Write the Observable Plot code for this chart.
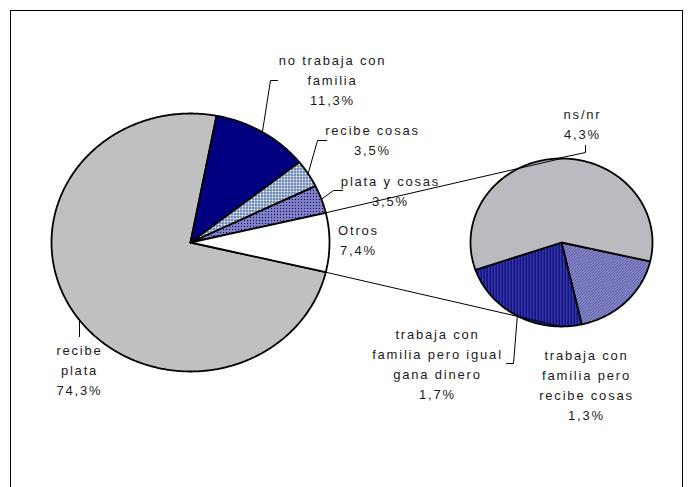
<!DOCTYPE html>
<html><head><meta charset="utf-8">
<script src="https://cdn.jsdelivr.net/npm/d3@7"></script>
<script src="https://cdn.jsdelivr.net/npm/@observablehq/plot@0.6"></script>
<style>
html,body{margin:0;padding:0;background:#fff;overflow:hidden;}
#wrap{position:relative;width:691px;height:487px;overflow:hidden;}
#frame{position:absolute;left:10px;top:10px;width:673px;height:500px;border:1px solid #000;box-sizing:border-box;}
#chart{position:absolute;left:0;top:0;}
</style></head><body>
<div id="wrap"><div id="frame"></div><div id="chart"></div></div>
<script>
// ---- data ----
const mainCategories = ["recibe plata", "no trabaja con familia", "recibe cosas", "plata y cosas", "Otros"];
const mainValues = [74.3, 11.3, 3.5, 3.5, 7.4];
const mainLabels = ["recibe\nplata\n74,3%", "no trabaja con\nfamilia\n11,3%", "recibe cosas\n3,5%", "plata y cosas\n3,5%", "Otros\n7,4%"];
const subCategories = ["trabaja con familia pero recibe cosas", "trabaja con familia pero igual gana dinero", "ns/nr"];
const subValues = [1.3, 1.7, 4.3];
const subLabels = ["trabaja con\nfamilia pero\nrecibe cosas\n1,3%", "trabaja con\nfamilia pero igual\ngana dinero\n1,7%", "ns/nr\n4,3%"];

// ---- layout / style ----
const W = 691, H = 487;
const MAIN = {cx: 190, cy: 242, rx: 139, ry: 129};
const SUB = {cx: 561, cy: 242, rx: 91, ry: 84, start: 103};
const mainFills = ["#c0c0c0", "#000080", "url(#pCross)", "url(#pCheck)", "#ffffff"];
const subFills = ["url(#pDiag)", "url(#pVert)", "url(#pDots)"];
const mainLabelPos = [[79, 368], [332, 78], [372, 138], [390, 189], [358, 238]];
const subLabelPos = [[586, 383], [437, 362], [582, 122]];
// leader: attach angle (deg, null = mid) and further points
const mainLeaders = [
  {angle: 233, pts: [[79, 336]]},
  {angle: null, pts: [[270, 80], [277, 80]]},
  {angle: null, pts: [[317, 140], [326, 140]]},
  {angle: null, pts: [[333, 190], [342, 190]]},
  null
];
const subLeaders = [
  null,
  {angle: null, pts: [[513, 363], [506, 363]]},
  {angle: null, pts: [[585, 152], [585, 145]]}
];

const rad = Math.PI / 180;
function edge(P, a) { return {x: P.cx + P.rx * Math.sin(a), y: P.cy - P.ry * Math.cos(a)}; }
function slicePoly(P, a0, a1) {
  const pts = [{x: P.cx, y: P.cy}];
  const n = Math.max(2, Math.ceil((a1 - a0) / (0.5 * rad)));
  for (let i = 0; i <= n; i++) pts.push(edge(P, a0 + (a1 - a0) * i / n));
  pts.push({x: P.cx, y: P.cy});
  return pts;
}

// main pie: last slice (Otros) centered on the right (90°)
const mainTotal = d3.sum(mainValues);
const otrosAngle = mainValues[mainValues.length - 1] / mainTotal * 2 * Math.PI;
const mainStart = Math.PI / 2 + otrosAngle / 2;
const mainArcs = d3.pie().sort(null).startAngle(mainStart).endAngle(mainStart + 2 * Math.PI)(mainValues);
const subArcs = d3.pie().sort(null).startAngle(SUB.start * rad).endAngle(SUB.start * rad + 2 * Math.PI)(subValues);

const marks = [];
mainArcs.forEach((a, i) => {
  marks.push(Plot.line(slicePoly(MAIN, a.startAngle, a.endAngle), {x: "x", y: "y", fill: mainFills[i], stroke: "#000", strokeWidth: 1.8, curve: "linear"}));
});
subArcs.forEach((a, i) => {
  marks.push(Plot.line(slicePoly(SUB, a.startAngle, a.endAngle), {x: "x", y: "y", fill: subFills[i], stroke: "#000", strokeWidth: 1.8, curve: "linear"}));
});

// series lines from the Otros slice to the secondary pie
const otrosArc = mainArcs[mainArcs.length - 1];
const seriesLines = [
  [edge(MAIN, otrosArc.startAngle), edge(SUB, 0)],
  [edge(MAIN, otrosArc.endAngle), edge(SUB, Math.PI)]
];
seriesLines.forEach(l => marks.push(Plot.line(l, {x: "x", y: "y", stroke: "#000", strokeWidth: 1})));

// leaders
function leaderPts(P, arc, L) {
  const a = L.angle == null ? (arc.startAngle + arc.endAngle) / 2 : L.angle * rad;
  return [edge(P, a), ...L.pts.map(([x, y]) => ({x, y}))];
}
mainArcs.forEach((a, i) => { if (mainLeaders[i]) marks.push(Plot.line(leaderPts(MAIN, a, mainLeaders[i]), {x: "x", y: "y", stroke: "#000", strokeWidth: 1})); });
subArcs.forEach((a, i) => { if (subLeaders[i]) marks.push(Plot.line(leaderPts(SUB, a, subLeaders[i]), {x: "x", y: "y", stroke: "#000", strokeWidth: 1})); });

// labels
const labelData = [
  ...mainLabels.map((t, i) => ({text: t, x: mainLabelPos[i][0], y: mainLabelPos[i][1]})),
  ...subLabels.map((t, i) => ({text: t, x: subLabelPos[i][0], y: subLabelPos[i][1]}))
];
marks.push(Plot.text(labelData, {x: "x", y: "y", text: "text", fontSize: 13, lineHeight: 1.54, fill: "#1a1a1a", textAnchor: "middle", fontFamily: "Liberation Sans, Arial, sans-serif"}));

const svg = Plot.plot({
  width: W, height: H, margin: 0,
  x: {domain: [0, W], range: [0, W], axis: null},
  y: {domain: [0, H], range: [0, H], axis: null},
  style: {background: "transparent", letterSpacing: "1.8px", fontFamily: "Liberation Sans, Arial, sans-serif"},
  marks
});

// patterns
const ns = "http://www.w3.org/2000/svg";
const defs = document.createElementNS(ns, "defs");
defs.innerHTML = `
<pattern id="pCross" width="3" height="3" patternUnits="userSpaceOnUse">
  <rect width="3" height="3" fill="#fff"/>
  <rect width="3" height="1" fill="#4a6aa8"/>
  <rect width="1" height="3" fill="#4a6aa8"/>
</pattern>
<pattern id="pCheck" width="3" height="3" patternUnits="userSpaceOnUse">
  <rect width="3" height="3" fill="#fff"/>
  <rect width="2" height="2" fill="#000080"/>
  <rect x="2" y="2" width="1" height="1" fill="#000080"/>
</pattern>
<pattern id="pDots" width="2" height="2" patternUnits="userSpaceOnUse">
  <rect width="2" height="2" fill="#c4c4c8"/>
  <rect width="1" height="1" fill="#9c9ca8"/>
</pattern>
<pattern id="pVert" width="3" height="3" patternUnits="userSpaceOnUse">
  <rect width="3" height="3" fill="#4848b8"/>
  <rect width="1.5" height="3" fill="#000070"/>
</pattern>
<pattern id="pDiag" width="3" height="3" patternUnits="userSpaceOnUse">
  <rect width="3" height="3" fill="#fff"/>
  <path d="M-1,1 L1,-1 M0,3 L3,0 M2,4 L4,2" stroke="#000080" stroke-width="1.2"/>
</pattern>`;
svg.insertBefore(defs, svg.firstChild);
document.getElementById("chart").appendChild(svg);
</script>
</body></html>
